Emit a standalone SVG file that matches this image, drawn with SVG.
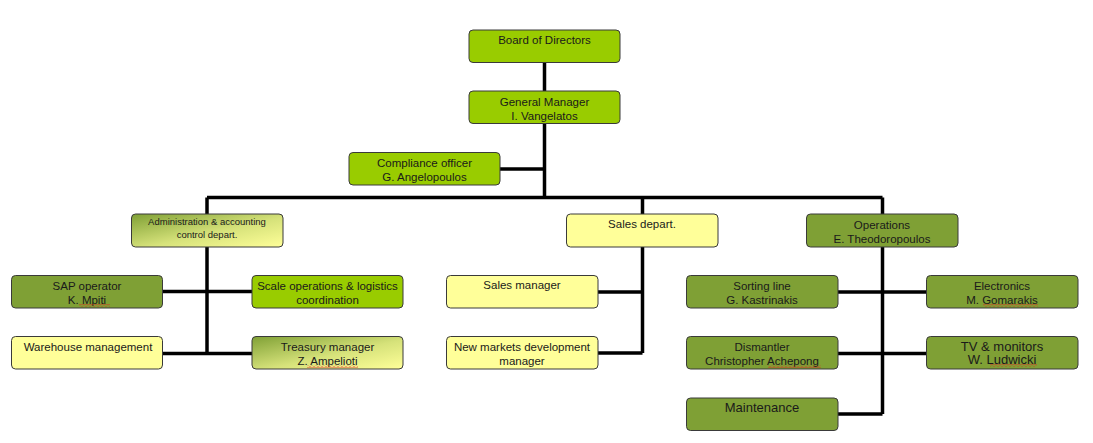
<svg xmlns="http://www.w3.org/2000/svg" width="1093" height="443" viewBox="0 0 1093 443">
<defs>
<style>
.box{stroke:#3a3a3a;stroke-width:1;}
.g{fill:#99CC00;}
.o{fill:#7FA035;}
.y{fill:#FFFF99;}
.gr{fill:url(#grad);}
.t{font-family:"Liberation Sans",Arial,sans-serif;font-size:11.5px;fill:#1a1a1a;text-anchor:middle;}
.ts{font-family:"Liberation Sans",Arial,sans-serif;font-size:9.5px;fill:#1a1a1a;text-anchor:middle;}
.tb{font-family:"Liberation Sans",Arial,sans-serif;font-size:13px;fill:#1a1a1a;text-anchor:middle;}
.c{stroke:#000;stroke-width:3.5;fill:none;}
.sq{fill:url(#sq);}
</style>
<linearGradient id="grad" x1="0" y1="0" x2="1" y2="1">
<stop offset="0" stop-color="#7FA035"/>
<stop offset="0.55" stop-color="#D6E27A"/>
<stop offset="1" stop-color="#FFFF99"/>
</linearGradient>
<pattern id="sq" width="4" height="3" patternUnits="userSpaceOnUse">
<path d="M0 2.5 L2 0.5 L4 2.5" stroke="#e02020" stroke-width="0.8" fill="none"/>
</pattern>
</defs>
<g id="connectors">
<path class="c" d="M544.5 62 V197.5"/>
<path class="c" d="M500 169 H544.5"/>
<path class="c" d="M207 197.5 H882.5"/>
<path class="c" d="M207 197.5 V353.5"/>
<path class="c" d="M162 291.5 H252"/>
<path class="c" d="M162 353.5 H252"/>
<path class="c" d="M642.5 197.5 V353"/>
<path class="c" d="M598 292 H642.5"/>
<path class="c" d="M598 353 H642.5"/>
<path class="c" d="M882.5 197.5 V414"/>
<path class="c" d="M838 292 H927"/>
<path class="c" d="M838 353.5 H927"/>
<path class="c" d="M838 414 H882.5"/>
</g>
<g id="board"><rect class="box g" x="469" y="30" width="151" height="32.5" rx="4"/><text class="t" x="544.5" y="44">Board of Directors</text></g>
<g id="gm"><rect class="box g" x="469" y="91" width="151" height="32.5" rx="4"/><text class="t" x="544.5" y="106">General Manager</text><text class="t" x="544.5" y="120">I. Vangelatos</text></g>
<g id="compliance"><rect class="box g" x="349" y="152.5" width="151" height="32.5" rx="4"/><text class="t" x="424.5" y="167">Compliance officer</text><text class="t" x="424.5" y="181">G. Angelopoulos</text></g>
<g id="admin"><rect class="box gr" x="131.5" y="214" width="151.5" height="33" rx="4"/><text class="ts" x="207" y="225">Administration &amp; accounting</text><text class="ts" x="207" y="237.5">control depart.</text></g>
<g id="sales"><rect class="box y" x="566.5" y="214" width="151.5" height="33" rx="4"/><text class="t" x="642" y="228">Sales depart.</text></g>
<g id="operations"><rect class="box o" x="806.5" y="214" width="151.5" height="33" rx="4"/><text class="t" x="882" y="229">Operations</text><text class="t" x="882" y="243">E. Theodoropoulos</text></g>
<g id="sap"><rect class="box o" x="11.5" y="275.5" width="151" height="32.5" rx="4"/><text class="t" x="87" y="290">SAP operator</text><text class="t" x="87" y="304">K. Mpiti</text><rect class="sq" x="79" y="304" width="31" height="3"/></g>
<g id="scale"><rect class="box g" x="252" y="275.5" width="151" height="32.5" rx="4"/><text class="t" x="327.5" y="290">Scale operations &amp; logistics</text><text class="t" x="327.5" y="304">coordination</text></g>
<g id="warehouse"><rect class="box y" x="11.5" y="336.5" width="151" height="32.5" rx="4"/><text class="t" x="88" y="351">Warehouse management</text></g>
<g id="treasury"><rect class="box gr" x="252" y="336.5" width="151" height="32.5" rx="4"/><text class="t" x="327.5" y="351">Treasury manager</text><text class="t" x="327.5" y="365">Z. Ampelioti</text><rect class="sq" x="307" y="365" width="51" height="3"/></g>
<g id="salesmanager"><rect class="box y" x="446.5" y="275.5" width="151.5" height="32.5" rx="4"/><text class="t" x="522" y="289">Sales manager</text></g>
<g id="newmarkets"><rect class="box y" x="446.5" y="336.5" width="151.5" height="32.5" rx="4"/><text class="t" x="522" y="351">New markets development</text><text class="t" x="522" y="365">manager</text></g>
<g id="sorting"><rect class="box o" x="686.5" y="275.5" width="151.5" height="32.5" rx="4"/><text class="t" x="762" y="290">Sorting line</text><text class="t" x="762" y="304">G. Kastrinakis</text></g>
<g id="electronics"><rect class="box o" x="926.5" y="275.5" width="151.5" height="32.5" rx="4"/><text class="t" x="1002" y="290">Electronics</text><text class="t" x="1002" y="304">M. Gomarakis</text><rect class="sq" x="983" y="304" width="55" height="3"/></g>
<g id="dismantler"><rect class="box o" x="686.5" y="336.5" width="151.5" height="32.5" rx="4"/><text class="t" x="762" y="351">Dismantler</text><text class="t" x="762" y="365">Christopher Achepong</text><rect class="sq" x="768" y="365" width="53" height="3"/></g>
<g id="tv"><rect class="box o" x="926.5" y="336.5" width="151.5" height="32.5" rx="4"/><text class="tb" x="1002" y="351">TV &amp; monitors</text><text class="tb" x="1002" y="364">W. Ludwicki</text><rect class="sq" x="990" y="364" width="47" height="3"/></g>
<g id="maintenance"><rect class="box o" x="686.5" y="398" width="151.5" height="32.5" rx="4"/><text class="tb" x="762" y="412">Maintenance</text></g>
</svg>
